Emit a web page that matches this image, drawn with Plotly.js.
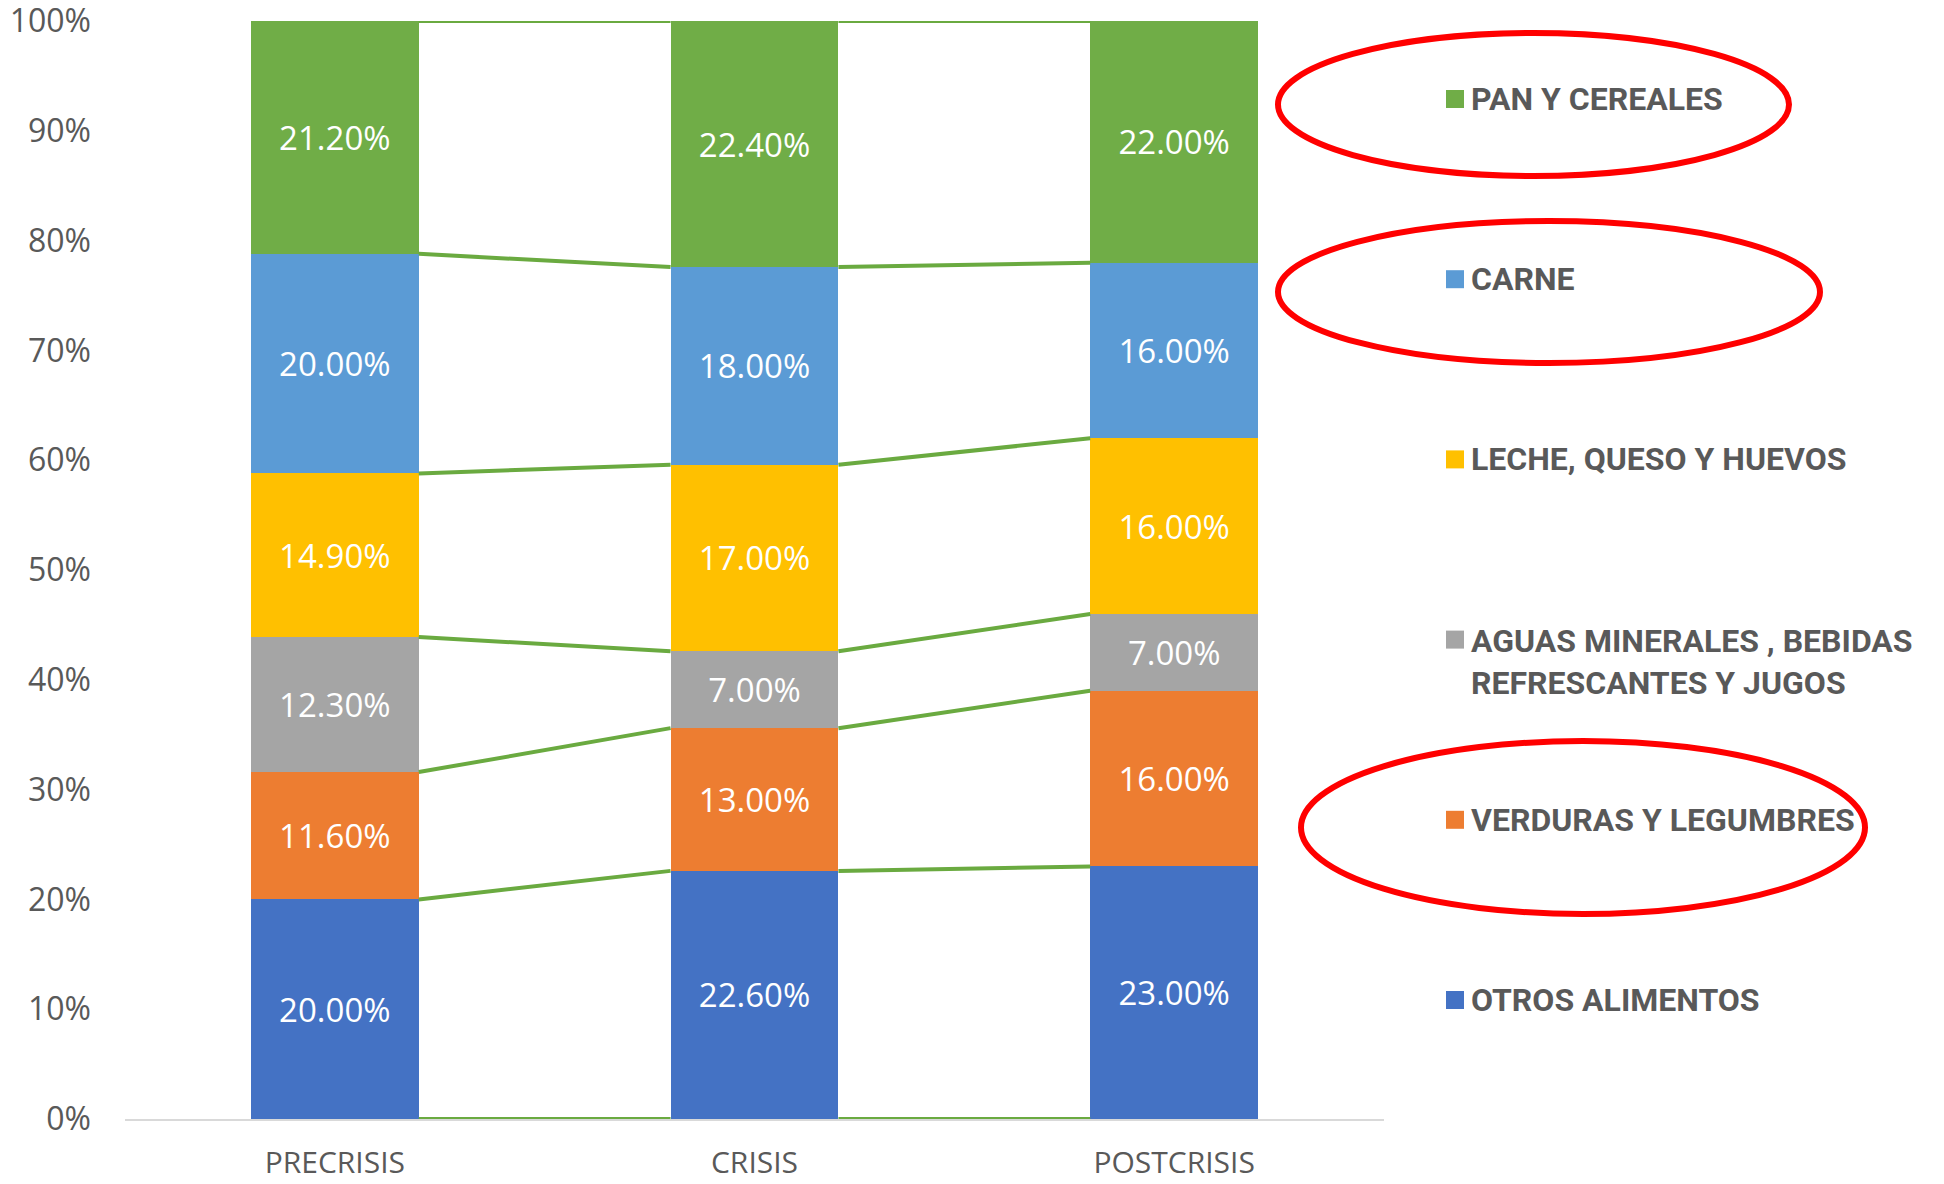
<!DOCTYPE html>
<html>
<head>
<meta charset="utf-8">
<script src="https://cdn.plot.ly/plotly-3.0.1.min.js"></script>
<style>
  html, body { margin: 0; padding: 0; background: #fff; }
  #chart { width: 1944px; height: 1184px; }
</style>
</head>
<body>
<div id="chart"></div>
<script>
// periodos y participación (%) de cada grupo de alimentos
var periodos = ["PRECRISIS", "CRISIS", "POSTCRISIS"];

var otros = [20.0, 22.6, 23.0];
var verduras = [11.6, 13.0, 16.0];
var aguas = [12.3, 7.0, 7.0];
var leche = [14.9, 17.0, 16.0];
var carne = [20.0, 18.0, 16.0];
var pan = [21.2, 22.4, 22.0];

var marcasY = [0, 10, 20, 30, 40, 50, 60, 70, 80, 90, 100];

// de abajo hacia arriba en la pila
var nombres = ["OTROS ALIMENTOS", "VERDURAS Y LEGUMBRES",
  "AGUAS MINERALES , BEBIDAS<br>REFRESCANTES Y JUGOS",
  "LECHE, QUESO Y HUEVOS", "CARNE", "PAN Y CEREALES"];
var series = [otros, verduras, aguas, leche, carne, pan];
var colores = ["#4472C4", "#ED7D31", "#A5A5A5", "#FFC000", "#5B9BD5", "#70AD47"];

// óvalos rojos (en píxeles de la imagen)
var ovalos = [
  [1278, 33, 1789, 176],
  [1278, 221, 1820, 363],
  [1301, 741, 1865, 914]
];

var L = 125, R = 560, T = 21, B = 65;
var W = 1944 - L - R, H = 1184 - T - B;
function px(x) { return (x - L) / W; }
function py(y) { return (1184 - B - y) / H; }

var xs = periodos.map(function (p, i) { return i; });
var ancho = 0.4;

var traces = series.map(function (vals, k) {
  return {
    type: "bar",
    x: xs,
    y: vals,
    name: nombres[k],
    width: ancho,
    marker: { color: colores[k], line: { width: 0 } },
    texttemplate: "%{y:.2f}%",
    textposition: "inside",
    insidetextanchor: "middle",
    constraintext: "none",
    textfont: { color: "#ffffff", size: 33, family: "Open Sans" },
    hoverinfo: "skip",
    showlegend: false
  };
});

// líneas de serie entre barras, en los acumulados
var acum = xs.map(function (i) {
  var c = [0], s = 0;
  series.forEach(function (v) { s += v[i]; c.push(s); });
  return c;
});
var lx = [], ly = [];
for (var i = 0; i < xs.length - 1; i++) {
  for (var k = 0; k < acum[i].length; k++) {
    lx.push(i + ancho / 2, i + 1 - ancho / 2, null);
    ly.push(acum[i][k], acum[i + 1][k], null);
  }
}
traces.push({
  type: "scatter", mode: "lines", x: lx, y: ly,
  line: { color: "#6AAA40", width: 4 },
  cliponaxis: false,
  hoverinfo: "skip", showlegend: false
});

// leyenda a mano, de arriba hacia abajo
var annotations = [], shapes = [];
for (var j = 0; j < nombres.length; j++) {
  var k = nombres.length - 1 - j;
  var yc = 99 + j * 180.2;
  var lineas = nombres[k].split("<br>").length;
  annotations.push({
    xref: "paper", yref: "paper",
    x: px(1469), y: py(yc + (lineas - 1) * 22.5),
    xanchor: "left", yanchor: "middle", align: "left",
    text: nombres[k], showarrow: false,
    font: { family: "Roboto, sans-serif", size: 32, color: "#595959", weight: "bold" }
  });
  shapes.push({
    type: "rect", xref: "paper", yref: "paper",
    x0: px(1446), x1: px(1464), y0: py(yc + 9), y1: py(yc - 9),
    fillcolor: colores[k], line: { width: 0 }
  });
}
ovalos.forEach(function (o) {
  shapes.push({
    type: "circle", xref: "paper", yref: "paper",
    x0: px(o[0]), x1: px(o[2]), y0: py(o[3]), y1: py(o[1]),
    line: { color: "#FF0000", width: 6 }
  });
});

var layout = {
  barmode: "stack",
  width: 1944, height: 1184,
  margin: { l: L, r: R, t: T, b: B },
  paper_bgcolor: "#ffffff", plot_bgcolor: "#ffffff",
  font: { family: "Open Sans, sans-serif", color: "#595959" },
  xaxis: {
    range: [-0.5, 2.5],
    tickmode: "array", tickvals: xs, ticktext: periodos,
    showgrid: false, zeroline: false,
    showline: true, linecolor: "#D9D9D9", linewidth: 2,
    ticks: "", ticklabelstandoff: 16,
    ticklabeloverflow: "allow",
    tickfont: { size: 30, color: "#595959" }
  },
  yaxis: {
    range: [0, 100.01],
    tickmode: "array",
    tickvals: marcasY,
    ticktext: marcasY.map(function (v) { return v + "%"; }),
    showgrid: false, zeroline: false, showline: false,
    ticks: "", ticklabelstandoff: 33,
    ticklabeloverflow: "allow",
    tickfont: { size: 32, color: "#595959" }
  },
  annotations: annotations,
  shapes: shapes,
  showlegend: false
};

Plotly.newPlot("chart", traces, layout, { staticPlot: true });
</script>
</body>
</html>
